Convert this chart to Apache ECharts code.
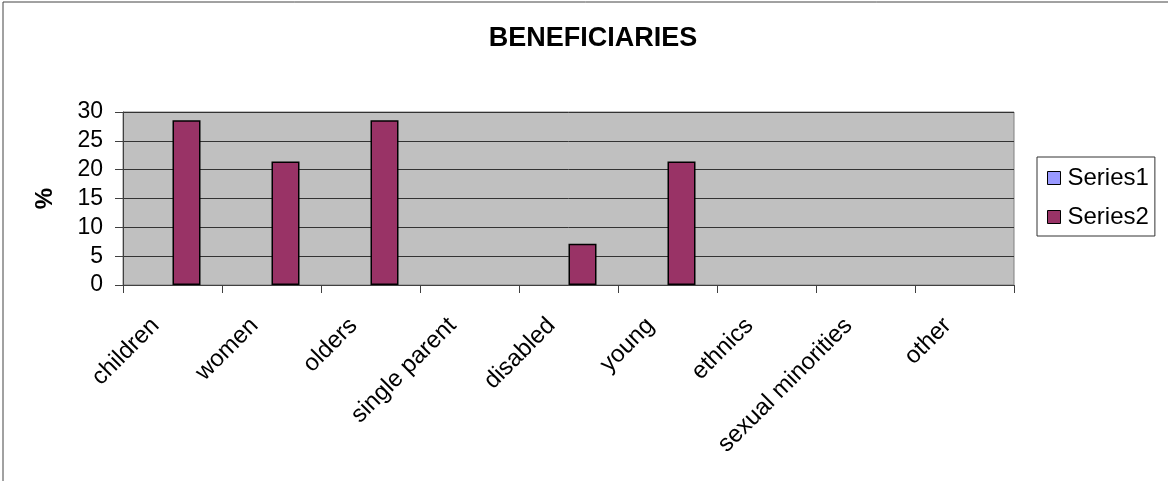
<!DOCTYPE html>
<html>
<head>
<meta charset="utf-8">
<script src="https://cdn.jsdelivr.net/npm/echarts@6/dist/echarts.min.js"></script>
<style>
html,body{margin:0;padding:0;background:#fff;}
#c{width:1168px;height:481px;}
</style>
</head>
<body>
<div id="c"></div>
<script>
var categories = ['children','women','olders','single parent','disabled','young','ethnics','sexual minorities','other'];
var series1 = [0,0,0,0,0,0,0,0,0];
var series2 = [28.57,21.43,28.57,0,7.14,21.43,0,0,0];
var yTicks = [0,5,10,15,20,25,30];
var FONT = '"Liberation Sans", Arial, sans-serif';

function barData(arr){
  return arr.map(function(v){
    return v === 0 ? {value:v, itemStyle:{borderWidth:0}} : v;
  });
}

var chart = echarts.init(document.getElementById('c'), null, {renderer:'canvas'});
chart.setOption({
  animation:false,
  backgroundColor:'#fff',
  textStyle:{fontFamily:FONT},
  title:{
    text:'BENEFICIARIES', left:588, top:20, textAlign:'center',
    textStyle:{fontFamily:FONT, fontSize:27, fontWeight:'bold', color:'#000'}
  },
  legend:{
    orient:'vertical', left:1037, top:157,
    backgroundColor:'#fff', borderColor:'#333', borderWidth:1,
    padding:[9,6,7,10], itemGap:15, itemWidth:13, itemHeight:13,
    icon:'rect',
    itemStyle:{borderColor:'#000', borderWidth:1},
    textStyle:{fontFamily:FONT, fontSize:24, color:'#000', padding:[0,0,0,2]},
    data:['Series1','Series2']
  },
  graphic:[
    {type:'line', shape:{x1:3,y1:2,x2:1168,y2:2}, style:{stroke:'#444',lineWidth:1}},
    {type:'line', shape:{x1:3,y1:2,x2:3,y2:481}, style:{stroke:'#444',lineWidth:1}}
  ],
  grid:{
    left:123, right:154, top:112, bottom:196,
    show:true, backgroundColor:'#C0C0C0', borderColor:'#808080', borderWidth:1
  },
  xAxis:{
    type:'category', data:categories,
    axisLine:{lineStyle:{color:'#404040', width:1}},
    axisTick:{show:true, interval:0, length:8, lineStyle:{color:'#404040'}},
    axisLabel:{interval:0, rotate:45, margin:20, padding:[0,24,30,0], fontFamily:FONT, fontSize:24, color:'#000'},
    splitLine:{show:false}
  },
  yAxis:{
    type:'value', min:yTicks[0], max:yTicks[yTicks.length-1], interval:5,
    name:'%', nameLocation:'middle', nameGap:66, nameRotate:90,
    nameTextStyle:{fontFamily:FONT, fontSize:24, fontWeight:'bold', color:'#000'},
    axisLine:{show:true, lineStyle:{color:'#404040', width:1}},
    axisTick:{show:true, length:8, lineStyle:{color:'#404040'}},
    axisLabel:{margin:20, fontFamily:FONT, fontSize:23, color:'#000'},
    splitLine:{show:true, lineStyle:{color:'#333', width:1}}
  },
  series:[
    {name:'Series1', type:'bar', data:barData(series1), barWidth:28, barGap:'0%',
     itemStyle:{color:'#9999FF', borderColor:'#000', borderWidth:0}},
    {name:'Series2', type:'bar', data:barData(series2), barWidth:28, barGap:'0%',
     itemStyle:{color:'#993366', borderColor:'#000', borderWidth:1.5}}
  ]
});
</script>
</body>
</html>
